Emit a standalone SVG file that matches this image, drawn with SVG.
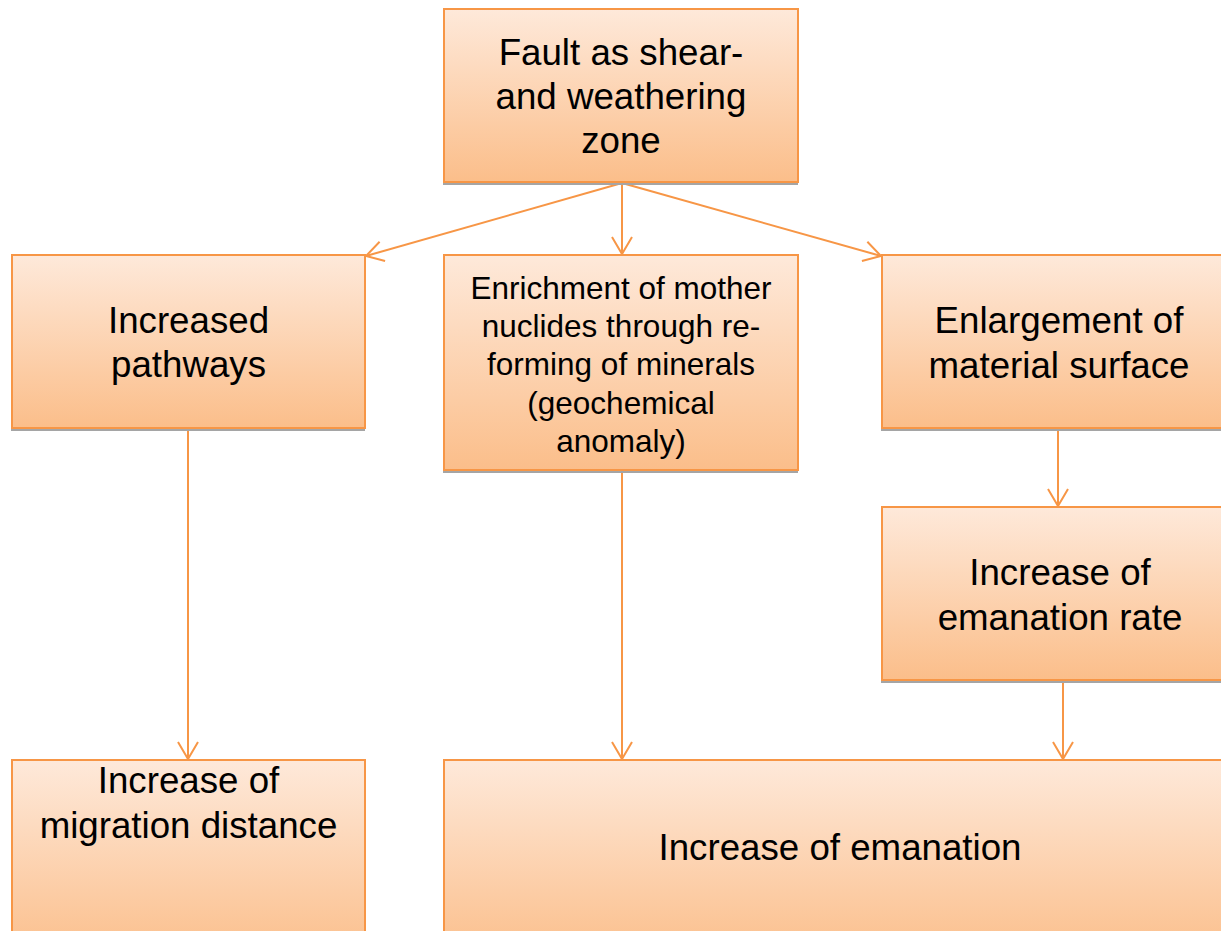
<svg xmlns="http://www.w3.org/2000/svg" width="1221" height="931" viewBox="0 0 1221 931">
<defs>
<linearGradient id="g" x1="0" y1="0" x2="0" y2="1">
<stop offset="0" stop-color="#FEE9DA"/>
<stop offset="1" stop-color="#FBBE8A"/>
</linearGradient>
<marker id="arr" markerWidth="24" markerHeight="24" refX="18" refY="11" orient="auto" markerUnits="userSpaceOnUse">
<path d="M1,1 L18,11 L1,21" fill="none" stroke="#F79646" stroke-width="2"/>
</marker>
<style>
.box{fill:url(#g);stroke:#F79646;stroke-width:2}
.sh{fill:#A5A5A5}
.t{font-family:"Liberation Sans",Arial,sans-serif;font-size:36.7px;fill:#000;text-anchor:middle}
.s{font-size:31.5px}
.c{fill:none;stroke:#F79646;stroke-width:2;marker-end:url(#arr)}
</style>
</defs>
<rect width="1221" height="931" fill="#fff"/>
<g id="connectors">
<line class="c" x1="622" y1="183" x2="622" y2="254"/>
<line class="c" x1="622" y1="183" x2="366" y2="256"/>
<line class="c" x1="622" y1="183" x2="881" y2="256"/>
<line class="c" x1="188" y1="430" x2="188" y2="759"/>
<line class="c" x1="622" y1="472" x2="622" y2="759"/>
<line class="c" x1="1058" y1="430" x2="1058" y2="506"/>
<line class="c" x1="1063" y1="682" x2="1063" y2="759"/>
</g>
<g id="n-fault">
<rect class="sh" x="443" y="12" width="355" height="173"/>
<rect class="box" x="444" y="9" width="354" height="173"/>
<text class="t" x="621" y="65">Fault as shear-</text>
<text class="t" x="621" y="109">and weathering</text>
<text class="t" x="621" y="153">zone</text>
</g>
<g id="n-pathways">
<rect class="sh" x="11" y="258" width="354" height="173"/>
<rect class="box" x="12" y="255" width="353" height="173"/>
<text class="t" x="188.5" y="333">Increased</text>
<text class="t" x="188.5" y="377">pathways</text>
</g>
<g id="n-enrichment">
<rect class="sh" x="443" y="258" width="355" height="215"/>
<rect class="box" x="444" y="255" width="354" height="215"/>
<text class="t s" x="621" y="299">Enrichment of mother</text>
<text class="t s" x="621" y="337">nuclides through re-</text>
<text class="t s" x="621" y="375">forming of minerals</text>
<text class="t s" x="621" y="414">(geochemical</text>
<text class="t s" x="621" y="452">anomaly)</text>
</g>
<g id="n-surface">
<rect class="sh" x="881" y="258" width="355" height="173"/>
<rect class="box" x="882" y="255" width="354" height="173"/>
<text class="t" x="1059" y="333">Enlargement of</text>
<text class="t" x="1059" y="378">material surface</text>
</g>
<g id="n-rate">
<rect class="sh" x="881" y="510" width="355" height="173"/>
<rect class="box" x="882" y="507" width="354" height="173"/>
<text class="t" x="1060" y="585">Increase of</text>
<text class="t" x="1060" y="630">emanation rate</text>
</g>
<g id="n-migration">
<rect class="box" x="12" y="760" width="353" height="200"/>
<text class="t" x="188.5" y="793">Increase of</text>
<text class="t" x="188.5" y="838">migration distance</text>
</g>
<g id="n-emanation">
<rect class="box" x="444" y="760" width="792" height="200"/>
<text class="t" x="840" y="860">Increase of emanation</text>
</g>
</svg>
